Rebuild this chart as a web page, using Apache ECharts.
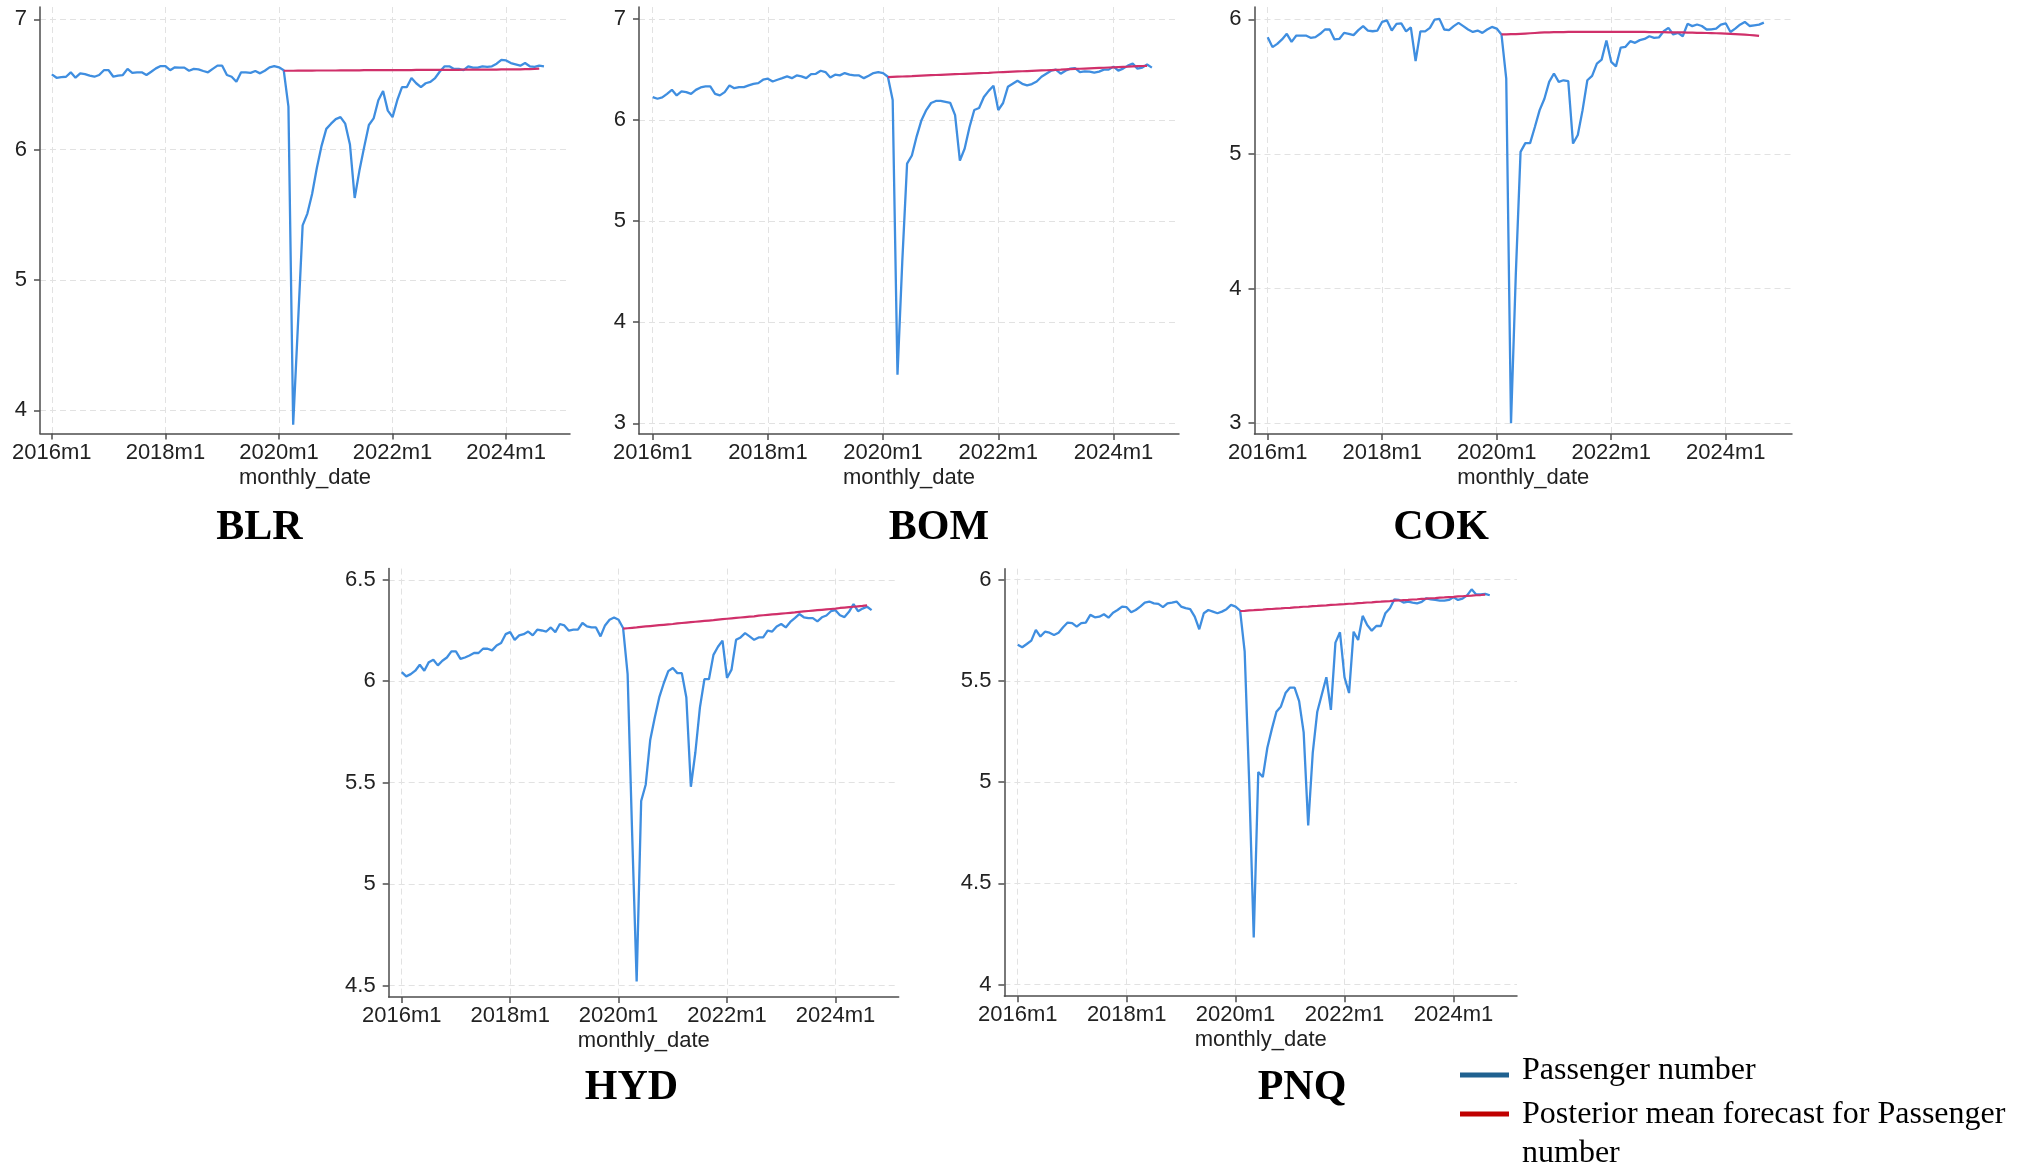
<!DOCTYPE html>
<html>
<head>
<meta charset="utf-8">
<script src="https://cdn.jsdelivr.net/npm/echarts@6/dist/echarts.min.js"></script>
<style>
  html, body { margin: 0; padding: 0; background: #ffffff; }
  #chart { width: 2029px; height: 1166px; }
</style>
</head>
<body>
<div id="chart"></div>
<script>
// Monthly dates 2016m1 .. 2024m9
const monthLabels = [];
for (let y = 2016; y <= 2024; y++) {
  for (let m = 1; m <= 12; m++) monthLabels.push(y + 'm' + m);
}
monthLabels.length = 105;

const xTickLabels = ['2016m1', '2018m1', '2020m1', '2022m1', '2024m1'];
const forecastStartLabel = '2020m2';

// log10 monthly passenger numbers per airport
const blrPassengers = [
  6.578,6.552,6.557,6.56,6.594,6.553,6.586,6.58,6.568,6.56,
  6.573,6.61,6.61,6.56,6.568,6.573,6.62,6.59,6.594,6.594,
  6.573,6.598,6.624,6.642,6.642,6.61,6.632,6.63,6.63,6.606,
  6.62,6.617,6.604,6.594,6.62,6.645,6.645,6.573,6.56,6.522,
  6.594,6.594,6.59,6.604,6.586,6.606,6.632,6.642,6.632,6.61,
  6.33,3.89,4.65,5.42,5.51,5.66,5.86,6.03,6.16,6.2,
  6.235,6.25,6.2,6.04,5.63,5.84,6.02,6.19,6.24,6.38,
  6.45,6.3,6.25,6.38,6.48,6.48,6.55,6.51,6.48,6.51,
  6.52,6.55,6.6,6.64,6.64,6.62,6.62,6.61,6.64,6.63,
  6.63,6.64,6.635,6.64,6.66,6.69,6.685,6.665,6.655,6.645,
  6.665,6.64,6.635,6.645,6.64
];
const bomPassengers = [
  6.228,6.212,6.225,6.261,6.3,6.245,6.284,6.278,6.261,6.3,
  6.324,6.334,6.334,6.261,6.245,6.278,6.344,6.317,6.327,6.327,
  6.344,6.36,6.367,6.4,6.41,6.383,6.4,6.416,6.433,6.416,
  6.443,6.433,6.416,6.456,6.459,6.489,6.476,6.423,6.45,6.443,
  6.466,6.45,6.443,6.443,6.416,6.44,6.466,6.476,6.466,6.43,
  6.2,3.48,4.6,5.57,5.65,5.84,6.0,6.1,6.17,6.19,
  6.19,6.18,6.17,6.05,5.6,5.72,5.93,6.1,6.12,6.23,
  6.29,6.34,6.1,6.17,6.33,6.36,6.39,6.36,6.345,6.357,
  6.383,6.43,6.46,6.49,6.5,6.46,6.49,6.51,6.515,6.476,
  6.482,6.48,6.47,6.48,6.5,6.5,6.53,6.49,6.51,6.54,
  6.56,6.51,6.52,6.55,6.52
];
const cokPassengers = [
  5.867,5.793,5.817,5.85,5.892,5.832,5.879,5.879,5.879,5.862,
  5.867,5.892,5.924,5.924,5.85,5.854,5.899,5.892,5.882,5.919,
  5.949,5.916,5.911,5.916,5.981,5.991,5.916,5.966,5.97,5.91,
  5.94,5.69,5.91,5.91,5.936,5.998,6.003,5.924,5.919,5.949,
  5.973,5.949,5.924,5.906,5.916,5.899,5.924,5.943,5.931,5.887,
  5.56,3.0,4.1,5.015,5.08,5.08,5.2,5.325,5.41,5.535,
  5.597,5.535,5.547,5.54,5.077,5.14,5.325,5.547,5.58,5.67,
  5.70,5.842,5.684,5.65,5.79,5.795,5.837,5.825,5.845,5.854,
  5.874,5.862,5.865,5.911,5.936,5.887,5.899,5.874,5.966,5.949,
  5.961,5.95,5.924,5.925,5.93,5.96,5.97,5.905,5.93,5.96,
  5.98,5.95,5.955,5.96,5.975
];
const hydPassengers = [
  6.045,6.024,6.035,6.052,6.081,6.052,6.094,6.106,6.078,6.101,
  6.117,6.147,6.147,6.11,6.117,6.127,6.139,6.139,6.16,6.16,
  6.152,6.176,6.188,6.232,6.242,6.204,6.226,6.232,6.245,6.226,
  6.254,6.25,6.245,6.265,6.242,6.282,6.275,6.249,6.254,6.254,
  6.287,6.27,6.265,6.265,6.221,6.275,6.303,6.314,6.303,6.262,
  6.035,5.25,4.52,5.41,5.49,5.71,5.82,5.92,5.99,6.05,
  6.065,6.04,6.04,5.92,5.48,5.65,5.87,6.01,6.01,6.13,
  6.17,6.2,6.016,6.057,6.204,6.216,6.237,6.221,6.204,6.216,
  6.216,6.249,6.245,6.27,6.282,6.265,6.292,6.311,6.331,6.315,
  6.311,6.311,6.295,6.315,6.324,6.345,6.35,6.325,6.316,6.342,
  6.38,6.345,6.358,6.367,6.35
];
const pnqPassengers = [
  5.678,5.666,5.682,5.699,5.752,5.719,5.743,5.738,5.727,5.738,
  5.765,5.788,5.785,5.768,5.785,5.788,5.826,5.814,5.817,5.829,
  5.812,5.837,5.85,5.867,5.864,5.839,5.85,5.867,5.887,5.892,
  5.883,5.88,5.864,5.883,5.887,5.892,5.867,5.859,5.854,5.817,
  5.755,5.834,5.85,5.842,5.834,5.842,5.854,5.875,5.867,5.847,
  5.646,5.0,4.233,5.05,5.025,5.17,5.263,5.348,5.374,5.44,
  5.467,5.467,5.4,5.246,4.786,5.144,5.348,5.433,5.518,5.357,
  5.689,5.74,5.518,5.44,5.743,5.702,5.821,5.776,5.748,5.771,
  5.771,5.834,5.859,5.903,5.90,5.887,5.892,5.887,5.883,5.89,
  5.908,5.903,5.9,5.896,5.896,5.9,5.913,5.9,5.906,5.922,
  5.952,5.927,5.927,5.93,5.923
];

// Posterior mean forecasts, 2020m2 .. 2024m8
const blrForecast = [
  6.606,6.606,6.606,6.607,6.607,6.607,6.607,6.608,6.608,6.608,
  6.608,6.608,6.609,6.609,6.609,6.609,6.609,6.610,6.610,6.610,
  6.610,6.610,6.610,6.611,6.611,6.611,6.611,6.611,6.612,6.612,
  6.612,6.612,6.612,6.613,6.613,6.613,6.613,6.613,6.614,6.614,
  6.614,6.614,6.615,6.615,6.615,6.615,6.616,6.616,6.616,6.617,
  6.617,6.618,6.619,6.620,6.622
];
const bomForecast = [
  6.426,6.428,6.430,6.432,6.434,6.436,6.439,6.441,6.443,6.445,
  6.447,6.449,6.451,6.453,6.455,6.457,6.459,6.461,6.463,6.465,
  6.467,6.469,6.472,6.474,6.476,6.478,6.480,6.482,6.484,6.486,
  6.488,6.490,6.492,6.494,6.496,6.498,6.500,6.503,6.505,6.507,
  6.509,6.511,6.513,6.515,6.517,6.519,6.521,6.523,6.525,6.527,
  6.529,6.532,6.534,6.536,6.538
];
const cokForecast = [
  5.887,5.888,5.889,5.890,5.892,5.894,5.896,5.898,5.900,5.902,
  5.903,5.904,5.905,5.905,5.906,5.906,5.906,5.906,5.906,5.906,
  5.906,5.906,5.906,5.906,5.906,5.906,5.906,5.906,5.906,5.906,
  5.906,5.905,5.905,5.904,5.904,5.903,5.903,5.902,5.902,5.901,
  5.900,5.899,5.899,5.898,5.897,5.896,5.895,5.894,5.892,5.890,
  5.888,5.886,5.883,5.880,5.877
];
const hydForecast = [
  6.259,6.261,6.263,6.265,6.268,6.270,6.272,6.274,6.276,6.278,
  6.280,6.282,6.285,6.287,6.289,6.291,6.293,6.295,6.297,6.299,
  6.301,6.304,6.306,6.308,6.310,6.312,6.314,6.316,6.318,6.320,
  6.323,6.325,6.327,6.329,6.331,6.333,6.335,6.337,6.339,6.342,
  6.344,6.346,6.348,6.350,6.352,6.354,6.356,6.358,6.361,6.363,
  6.365,6.367,6.369,6.371,6.374
];
const pnqForecast = [
  5.845,5.846,5.848,5.849,5.851,5.852,5.854,5.855,5.857,5.858,
  5.860,5.861,5.863,5.864,5.866,5.867,5.869,5.870,5.872,5.873,
  5.875,5.876,5.878,5.879,5.881,5.882,5.884,5.885,5.887,5.888,
  5.890,5.891,5.893,5.894,5.896,5.897,5.899,5.900,5.902,5.903,
  5.905,5.906,5.908,5.909,5.911,5.912,5.914,5.915,5.917,5.918,
  5.920,5.921,5.923,5.924,5.926
];

const blrYTicks = [4, 5, 6, 7];
const bomYTicks = [3, 4, 5, 6, 7];
const cokYTicks = [3, 4, 5, 6];
const hydYTicks = [4.5, 5, 5.5, 6, 6.5];
const pnqYTicks = [4, 4.5, 5, 5.5, 6];

const LINE_BLUE = '#3f8ee0';
const LINE_RED = '#d0306a';
const AXIS_COLOR = '#4d4d4d';
const LABEL_COLOR = '#222222';
const GRID_COLOR = '#e2e2e2';
const SANS = '"Liberation Sans", Arial, sans-serif';
const SERIF = '"Liberation Serif", "Times New Roman", serif';

const panels = [
  { code: 'BLR', pax: blrPassengers, fc: blrForecast, yRange: [3.823, 7.095], yTicks: blrYTicks,
    xRange: [-2.5, 109.5], box: { left: 40, top: 7, width: 530, height: 426.5 }, titleAt: [259.5, 528] },
  { code: 'BOM', pax: bomPassengers, fc: bomForecast, yRange: [2.894, 7.12], yTicks: bomYTicks,
    xRange: [-2.85, 109.65], box: { left: 639, top: 7, width: 540, height: 427 }, titleAt: [939, 528] },
  { code: 'COK', pax: cokPassengers, fc: cokForecast, yRange: [2.92, 6.091], yTicks: cokYTicks,
    xRange: [-2.77, 109.9], box: { left: 1254.5, top: 7, width: 537.5, height: 427 }, titleAt: [1441, 528] },
  { code: 'HYD', pax: hydPassengers, fc: hydForecast, yRange: [4.444, 6.555], yTicks: hydYTicks,
    xRange: [-2.88, 110.0], box: { left: 388.7, top: 568.6, width: 510, height: 428.4 }, titleAt: [631.5, 1088] },
  { code: 'PNQ', pax: pnqPassengers, fc: pnqForecast, yRange: [3.943, 6.054], yTicks: pnqYTicks,
    xRange: [-2.93, 110.0], box: { left: 1004.4, top: 568.7, width: 512.6, height: 427.5 }, titleAt: [1302, 1088] }
];

const xTickIdx = xTickLabels.map(l => monthLabels.indexOf(l));
const fcStart = monthLabels.indexOf(forecastStartLabel);

const grids = [], xAxes = [], yAxes = [], series = [], titles = [];

panels.forEach((p, i) => {
  grids.push({ left: p.box.left, top: p.box.top, width: p.box.width, height: p.box.height, containLabel: false });

  xAxes.push({
    gridIndex: i, type: 'value', min: p.xRange[0], max: p.xRange[1],
    name: 'monthly_date', nameLocation: 'middle', nameGap: 33,
    nameTextStyle: { fontSize: 22, color: LABEL_COLOR, fontFamily: SANS },
    axisLine: { show: true, onZero: false, lineStyle: { color: AXIS_COLOR, width: 1.5 } },
    axisTick: { show: true, inside: false, length: 6, customValues: xTickIdx, lineStyle: { color: AXIS_COLOR, width: 1.5 } },
    axisLabel: { show: true, customValues: xTickIdx, margin: 8, fontSize: 22, color: LABEL_COLOR, fontFamily: SANS,
      formatter: v => monthLabels[Math.round(v)] },
    splitLine: { show: true, lineStyle: { color: GRID_COLOR, width: 1, type: [6, 4] } }
  });

  yAxes.push({
    gridIndex: i, type: 'value', min: p.yRange[0], max: p.yRange[1],
    axisLine: { show: true, onZero: false, lineStyle: { color: AXIS_COLOR, width: 1.5 } },
    axisTick: { show: true, inside: false, length: 6, customValues: p.yTicks, lineStyle: { color: AXIS_COLOR, width: 1.5 } },
    axisLabel: { show: true, customValues: p.yTicks, margin: 13, fontSize: 22, color: LABEL_COLOR, fontFamily: SANS,
      formatter: v => String(v) },
    splitLine: { show: true, lineStyle: { color: GRID_COLOR, width: 1, type: [6, 4] } }
  });

  series.push({
    name: 'Passenger number', type: 'line', xAxisIndex: i, yAxisIndex: i,
    data: p.pax.map((v, k) => [k, v]), symbol: 'none', silent: true, z: 2,
    lineStyle: { color: LINE_BLUE, width: 2.3 }
  });
  series.push({
    name: 'Posterior mean forecast for Passenger number', type: 'line', xAxisIndex: i, yAxisIndex: i,
    data: p.fc.map((v, k) => [fcStart + k, v]), symbol: 'none', silent: true, z: 3,
    lineStyle: { color: LINE_RED, width: 2.2 }
  });

  titles.push({
    text: p.code, left: p.titleAt[0], top: p.titleAt[1] - 21, textAlign: 'center', padding: 0,
    textStyle: { fontFamily: SERIF, fontWeight: 'bold', fontSize: 42, color: '#000000' }
  });
});

const chart = echarts.init(document.getElementById('chart'), null, { renderer: 'canvas' });
chart.setOption({
  backgroundColor: '#ffffff',
  animation: false,
  textStyle: { fontFamily: SANS },
  title: titles,
  grid: grids,
  xAxis: xAxes,
  yAxis: yAxes,
  series: series,
  graphic: [
    { type: 'line', shape: { x1: 1460, y1: 1075, x2: 1509, y2: 1075 }, style: { stroke: '#1f6190', lineWidth: 5 } },
    { type: 'text', x: 1522, y: 1051, style: { text: 'Passenger number', font: '32px ' + SERIF, fill: '#000000',
      verticalAlign: 'top', lineHeight: 39 } },
    { type: 'line', shape: { x1: 1460, y1: 1114, x2: 1509, y2: 1114 }, style: { stroke: '#c00000', lineWidth: 5 } },
    { type: 'text', x: 1522, y: 1095, style: { text: 'Posterior mean forecast for Passenger\nnumber', font: '32px ' + SERIF,
      fill: '#000000', verticalAlign: 'top', lineHeight: 39 } }
  ]
});
</script>
</body>
</html>
